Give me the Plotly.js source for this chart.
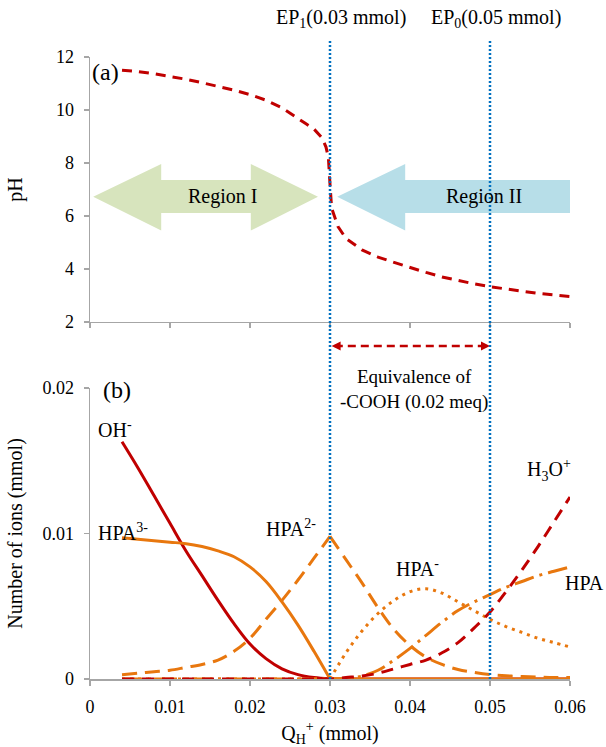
<!DOCTYPE html>
<html>
<head>
<meta charset="utf-8">
<script src="https://cdn.plot.ly/plotly-3.0.1.min.js"></script>
<style>html,body{margin:0;padding:0;background:#fff;}#chart{width:606px;height:747px;}</style>
</head>
<body>
<div id="chart"></div>
<script>
// ---- Data ----
const qTop = [0.004,0.006,0.008,0.010,0.012,0.014,0.016,0.018,0.020,0.022,0.024,0.026,0.027,0.028,0.029,0.0295,0.0298,0.0300,0.0302,0.031,0.032,0.034,0.036,0.038,0.040,0.042,0.044,0.046,0.048,0.050,0.052,0.054,0.056,0.058,0.060];
const pH = [11.5,11.45,11.37,11.27,11.16,11.03,10.9,10.75,10.58,10.37,10.08,9.7,9.48,9.28,8.95,8.6,8.2,7.2,6.3,5.6,5.15,4.72,4.45,4.25,4.05,3.87,3.7,3.56,3.44,3.33,3.24,3.15,3.08,3.02,2.96];

const qIons = [0.004,0.006,0.008,0.010,0.012,0.014,0.016,0.018,0.020,0.022,0.024,0.026,0.028,0.030,0.032,0.034,0.036,0.038,0.040,0.042,0.044,0.046,0.048,0.050,0.052,0.054,0.056,0.058,0.060];
const ohMinus = [0.0163,0.0145,0.0126,0.0107,0.0088,0.0071,0.0054,0.0038,0.0024,0.0014,0.0007,0.0003,0.0001,0,0,0,0,0,0,0,0,0,0,0,0,0,0,0,0];
const hpa3 = [0.0097,0.0096,0.0095,0.0094,0.0093,0.0091,0.0088,0.0084,0.0077,0.0067,0.0053,0.0037,0.0019,0,0,0,0,0,0,0,0,0,0,0,0,0,0,0,0];
const hpa2 = [0.0003,0.0004,0.0005,0.0006,0.0008,0.0010,0.0013,0.0019,0.0028,0.0041,0.0054,0.0068,0.0083,0.0098,0.0082,0.0066,0.0049,0.0034,0.0023,0.0015,0.0010,0.00065,0.00045,0.0003,0.00022,0.00017,0.00013,0.0001,0.0001];
const hpa1 = [0,0,0,0,0,0,0,0,0,0,0,0,0,0,0.0018,0.0033,0.0045,0.0054,0.0060,0.0062,0.0059,0.0053,0.0047,0.0041,0.0036,0.0032,0.0028,0.0025,0.0022];
const hpa0 = [0,0,0,0,0,0,0,0,0,0,0,0,0,0,0.00005,0.0002,0.0006,0.0013,0.0021,0.0030,0.0039,0.0047,0.0053,0.0058,0.0063,0.0067,0.0071,0.0074,0.0077];
const h3o = [0,0,0,0,0,0,0,0,0,0,0,0,0,0,0.0001,0.0002,0.0004,0.0007,0.0010,0.0013,0.0018,0.0025,0.0035,0.0046,0.0060,0.0075,0.0091,0.0108,0.0125];

const endpoints = [0.03, 0.05];
const xTicks = [0,0.01,0.02,0.03,0.04,0.05,0.06];

// ---- Styles ----
const RED = '#C00000', ORANGE = '#E8770E', BLUE = '#0070C0';
const FONT = 'Liberation Serif, Times New Roman, serif';
const EP1_INDEX = qIons.indexOf(0.030);

function seg(arr, a, b){ return arr.slice(a, b); }
function ionTrace(ys, a, b, line, shape){
  return {x: seg(qIons, a, b), y: seg(ys, a, b), mode:'lines', line: Object.assign({shape: shape||'linear', smoothing:1}, line)};
}
const N = qIons.length;

const traces = [
  {x: qTop, y: pH, xaxis:'x2', yaxis:'y2', mode:'lines', line:{color:RED, width:3, dash:'10px,7px'}},
  // OH- : curved part, then flat zero part
  ionTrace(ohMinus, 0, EP1_INDEX+1, {color:RED, width:3}, 'spline'),
  ionTrace(ohMinus, EP1_INDEX, N, {color:RED, width:3}),
  // HPA3-
  ionTrace(hpa3, EP1_INDEX, N, {color:ORANGE, width:3}),
  ionTrace(hpa3, 0, EP1_INDEX+1, {color:ORANGE, width:3}, 'spline'),
  // HPA2- (sharp peak at EP1: rising and falling branches)
  ionTrace(hpa2, 0, EP1_INDEX+1, {color:ORANGE, width:3, dash:'15px,8px'}, 'spline'),
  ionTrace(hpa2, EP1_INDEX, N, {color:ORANGE, width:3, dash:'15px,8px'}, 'spline'),
  // HPA-
  ionTrace(hpa1, 0, EP1_INDEX+1, {color:ORANGE, width:3, dash:'3px,5px'}),
  ionTrace(hpa1, EP1_INDEX, N, {color:ORANGE, width:3, dash:'3px,5px'}, 'spline'),
  // HPA
  ionTrace(hpa0, 0, N, {color:ORANGE, width:3, dash:'20px,6px,3px,6px'}, 'spline'),
  // H3O+
  ionTrace(h3o, 0, N, {color:RED, width:3, dash:'12px,8px'}, 'spline')
];

const axisCommon = {
  showline:true, linecolor:'#A6A6A6', linewidth:1.5, ticks:'outside', ticklen:5,
  tickcolor:'#A6A6A6', tickwidth:1.5, showgrid:false, zeroline:false,
  tickfont:{family:FONT, size:18, color:'#000'}
};

const shapes = [
  // Region I double arrow
  {type:'path', xref:'x2', yref:'y2', layer:'below', fillcolor:'#D7E4BD', line:{width:0},
   path:'M 0.0004 6.73 L 0.0089 7.96 L 0.0089 7.36 L 0.0201 7.36 L 0.0201 7.96 L 0.0285 6.73 L 0.0201 5.45 L 0.0201 6.11 L 0.0089 6.11 L 0.0089 5.45 Z'},
  // Region II arrow
  {type:'path', xref:'x2', yref:'y2', layer:'below', fillcolor:'#B7DEE8', line:{width:0},
   path:'M 0.0309 6.73 L 0.0394 7.96 L 0.0394 7.36 L 0.06 7.36 L 0.06 6.11 L 0.0394 6.11 L 0.0394 5.45 Z'},
  // red dashed double arrow between endpoints
  {type:'line', xref:'x', yref:'paper', x0:0.0306, x1:0.0496, y0:0.5354, y1:0.5354, layer:'above',
   line:{color:RED, width:2.5, dash:'8px,5px'}},
  {type:'path', xref:'x', yref:'paper', xsizemode:'pixel', ysizemode:'pixel', xanchor:0.0302, yanchor:0.5354,
   path:'M 0 0 L 9 4.5 L 9 -4.5 Z', fillcolor:RED, line:{width:0}},
  {type:'path', xref:'x', yref:'paper', xsizemode:'pixel', ysizemode:'pixel', xanchor:0.05, yanchor:0.5354,
   path:'M 0 0 L -9 4.5 L -9 -4.5 Z', fillcolor:RED, line:{width:0}}
];
endpoints.forEach(q => shapes.push({type:'line', xref:'x', yref:'paper', x0:q, x1:q, y0:0, y1:1.027,
  layer:'above', line:{color:BLUE, width:2.5, dash:'2px,2px'}}));

const ann = (text, x, y, xref, yref, opts) => Object.assign({text, x, y, xref, yref, showarrow:false,
  font:{family:FONT, size:20, color:'#000'}, xanchor:'left', yanchor:'middle'}, opts||{});

const annotations = [
  ann('EP<sub>1</sub>(0.03 mmol)', 0.0314, 1.0627, 'x', 'paper', {xanchor:'center'}),
  ann('EP<sub>0</sub>(0.05 mmol)', 0.0508, 1.0627, 'x', 'paper', {xanchor:'center'}),
  ann('(a)', 0, 0.9759, 'paper', 'paper', {font:{family:FONT, size:24, color:'#000'}}),
  ann('(b)', 0.022, 0.4646, 'paper', 'paper', {font:{family:FONT, size:24, color:'#000'}}),
  ann('Region I', 0.0165, 6.73, 'x2', 'y2', {xanchor:'center'}),
  ann('Region II', 0.04925, 6.73, 'x2', 'y2', {xanchor:'center'}),
  ann('Equivalence of<br>-COOH (0.02 meq)', 0.0405, 0.4662, 'x', 'paper', {xanchor:'center', font:{family:FONT, size:19, color:'#000'}}),
  ann('OH<sup>-</sup>', 0.00075, 0.0172, 'x', 'y'),
  ann('HPA<sup>3-</sup>', 0.00075, 0.0101, 'x', 'y'),
  ann('HPA<sup>2-</sup>', 0.02175, 0.01038, 'x', 'y'),
  ann('HPA<sup>-</sup>', 0.038, 0.00763, 'x', 'y'),
  ann('H<sub>3</sub>O<sup>+</sup>', 0.05438, 0.01436, 'x', 'y'),
  ann('HPA', 0.0591, 0.0066, 'x', 'y')
];

const layout = {
  width:606, height:747, margin:{l:90, r:36, t:57, b:68},
  paper_bgcolor:'#fff', plot_bgcolor:'#fff', showlegend:false,
  font:{family:FONT, color:'#000'},
  xaxis: Object.assign({}, axisCommon, {domain:[0,1], anchor:'y', range:[0,0.06], tickvals:xTicks,
    ticktext:xTicks.map(String), ticklabelstandoff:6,
    title:{text:'Q<sub>H</sub><sup>+</sup> (mmol)', font:{family:FONT, size:20, color:'#000'}, standoff:10}}),
  yaxis: Object.assign({}, axisCommon, {domain:[0,0.468], anchor:'x', range:[0,0.02], tickvals:[0,0.01,0.02],
    ticktext:['0','0.01','0.02'], ticklabelstandoff:6,
    title:{text:'Number of ions (mmol)', font:{family:FONT, size:20, color:'#000'}, standoff:14}}),
  xaxis2: Object.assign({}, axisCommon, {domain:[0,1], anchor:'y2', range:[0,0.06], tickvals:xTicks, showticklabels:false}),
  yaxis2: Object.assign({}, axisCommon, {domain:[0.574,1], anchor:'x2', range:[2,12], dtick:2, tick0:2, ticklabelstandoff:6,
    title:{text:'pH', font:{family:FONT, size:20, color:'#000'}, standoff:28}}),
  shapes, annotations
};

Plotly.newPlot('chart', traces, layout, {displayModeBar:false, staticPlot:true});
</script>
</body>
</html>
